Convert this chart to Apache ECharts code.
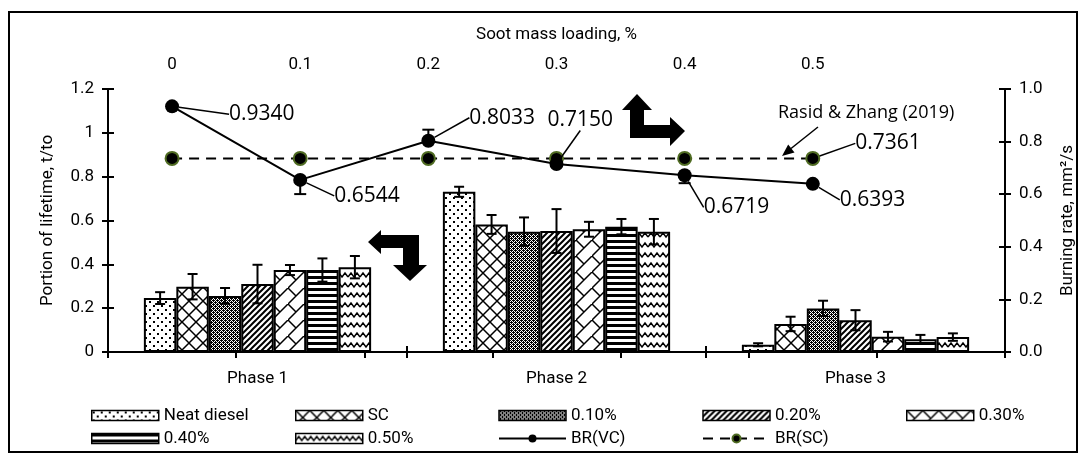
<!DOCTYPE html>
<html>
<head>
<meta charset="utf-8">
<script src="https://cdn.jsdelivr.net/npm/echarts@6/dist/echarts.min.js"></script>
<style>
  html, body { margin: 0; padding: 0; background: #fff; }
  #chart1 { width: 1086px; height: 459px; }
</style>
</head>
<body>
<div id="chart1"></div>
<script>
// categories
var phases = ['Phase 1', 'Phase 2', 'Phase 3'];
var barNames = ['Neat diesel', 'SC', '0.10%', '0.20%', '0.30%', '0.40%', '0.50%'];
var sootLoading = ['0', '0.1', '0.2', '0.3', '0.4', '0.5', ''];

// portion of lifetime (left axis), one array per phase, in barNames order
var phase1 = [0.246, 0.298, 0.256, 0.310, 0.374, 0.374, 0.387];
var phase2 = [0.731, 0.582, 0.549, 0.552, 0.560, 0.572, 0.549];
var phase3 = [0.033, 0.128, 0.199, 0.145, 0.070, 0.058, 0.068];
var phase1Err = [0.027, 0.058, 0.036, 0.088, 0.023, 0.053, 0.051];
var phase2Err = [0.023, 0.043, 0.065, 0.100, 0.034, 0.035, 0.058];
var phase3Err = [0.007, 0.033, 0.035, 0.046, 0.022, 0.020, 0.017];

// burning rate (right axis)
var brVC = [0.9340, 0.6544, 0.8033, 0.7150, 0.6719, 0.6393];
var brVCErrPlus = [0, 0, 0.042, 0, 0, 0];
var brVCErrMinus = [0, 0.054, 0, 0, 0.030, 0];
var brSC = [0.7361, 0.7361, 0.7361, 0.7361, 0.7361, 0.7361];

var NARROW = "Roboto, 'Liberation Sans', sans-serif";
var LABELFONT = "'Open Sans', 'Noto Sans', sans-serif";

// hatch patterns for the bars
function pattern(w, h, draw) {
    var c = document.createElement('canvas');
    c.width = w; c.height = h;
    var ctx = c.getContext('2d');
    ctx.fillStyle = '#fff';
    ctx.fillRect(0, 0, w, h);
    ctx.fillStyle = '#000';
    ctx.strokeStyle = '#000';
    draw(ctx, w, h);
    return { image: c, repeat: 'repeat' };
}
var fills = [
    // dots
    pattern(8, 8, function (ctx) {
        ctx.fillRect(1, 1, 2, 2);
        ctx.fillRect(5, 5, 2, 2);
    }),
    // big diamonds
    pattern(14, 14, function (ctx) {
        ctx.lineWidth = 1.5;
        ctx.beginPath();
        ctx.moveTo(0, 0); ctx.lineTo(14, 14);
        ctx.moveTo(14, 0); ctx.lineTo(0, 14);
        ctx.stroke();
    }),
    // fine checker
    pattern(4, 4, function (ctx) {
        ctx.fillRect(0, 0, 1, 1); ctx.fillRect(2, 0, 1, 1);
        ctx.fillRect(1, 1, 1, 1); ctx.fillRect(3, 1, 1, 1);
        ctx.fillRect(0, 2, 1, 1); ctx.fillRect(2, 2, 1, 1);
        ctx.fillRect(1, 3, 1, 1); ctx.fillRect(3, 3, 1, 1);
        ctx.fillRect(1, 0, 1, 1); ctx.fillRect(3, 2, 1, 1);
    }),
    // dense diagonal
    pattern(6, 6, function (ctx) {
        ctx.lineWidth = 2;
        ctx.beginPath();
        ctx.moveTo(-1, 7); ctx.lineTo(7, -1);
        ctx.moveTo(-1, 1); ctx.lineTo(1, -1);
        ctx.moveTo(5, 7); ctx.lineTo(7, 5);
        ctx.stroke();
    }),
    // diagonal brick
    pattern(16, 16, function (ctx) {
        ctx.lineWidth = 1.5;
        ctx.beginPath();
        ctx.moveTo(0, 16); ctx.lineTo(16, 0);
        ctx.moveTo(0, 0); ctx.lineTo(8, 8);
        ctx.stroke();
    }),
    // horizontal stripes
    pattern(4, 6, function (ctx) {
        ctx.fillRect(0, 0, 4, 3);
    }),
    // waves
    pattern(12, 10, function (ctx) {
        ctx.lineWidth = 1.4;
        ctx.beginPath();
        ctx.moveTo(0, 7);
        ctx.lineTo(3, 3); ctx.lineTo(6, 7); ctx.lineTo(9, 3); ctx.lineTo(12, 7);
        ctx.stroke();
    })
];

var phaseValues = [phase1, phase2, phase3];
var phaseErrors = [phase1Err, phase2Err, phase3Err];
var GAP = 0.24;

var series = [];
barNames.forEach(function (name, k) {
    series.push({
        name: name,
        type: 'bar',
        barGap: 0,
        barCategoryGap: (GAP * 100) + '%',
        data: phaseValues.map(function (p) { return p[k]; }),
        itemStyle: { color: fills[k], borderColor: '#000', borderWidth: 2 }
    });
});
barNames.forEach(function (name, k) {
    series.push({
        type: 'custom',
        z: 5,
        silent: true,
        data: phaseValues.map(function (p, i) { return [i, p[k], phaseErrors[i][k]]; }),
        encode: { x: 0, y: 1 },
        renderItem: function (params, api) {
            var c = api.coord([api.value(0), api.value(1)]);
            var band = api.size([1, 0])[0];
            var bw = band * (1 - GAP) / barNames.length;
            var x = c[0] + (k - (barNames.length - 1) / 2) * bw;
            var hi = api.coord([api.value(0), api.value(1) + api.value(2)])[1];
            var lo = api.coord([api.value(0), api.value(1) - api.value(2)])[1];
            var st = { stroke: '#000', lineWidth: 2 };
            return { type: 'group', children: [
                { type: 'line', shape: { x1: x, y1: hi, x2: x, y2: lo }, style: st },
                { type: 'line', shape: { x1: x - 5, y1: hi, x2: x + 5, y2: hi }, style: st },
                { type: 'line', shape: { x1: x - 5, y1: lo, x2: x + 5, y2: lo }, style: st }
            ] };
        }
    });
});

// label offsets for the burning-rate values
var vcShift = [[45, 8], [22, 16], [29, -23], [-21, -44], [7, 32], [15, 16]];
var scShift = [30, -15];

series.push({
    type: 'custom',
    xAxisIndex: 1,
    yAxisIndex: 1,
    z: 6,
    silent: true,
    data: brVC.map(function (v, i) { return [i, v, brVCErrPlus[i], brVCErrMinus[i]]; }),
    encode: { x: 0, y: 1 },
    renderItem: function (params, api) {
        var c = api.coord([api.value(0), api.value(1)]);
        var hi = api.coord([api.value(0), api.value(1) + api.value(2)])[1];
        var lo = api.coord([api.value(0), api.value(1) - api.value(3)])[1];
        var st = { stroke: '#000', lineWidth: 2 };
        var ch = [{ type: 'line', shape: { x1: c[0], y1: hi, x2: c[0], y2: lo }, style: st }];
        if (api.value(2) > 0) ch.push({ type: 'line', shape: { x1: c[0] - 6, y1: hi, x2: c[0] + 6, y2: hi }, style: st });
        if (api.value(3) > 0) ch.push({ type: 'line', shape: { x1: c[0] - 6, y1: lo, x2: c[0] + 6, y2: lo }, style: st });
        return { type: 'group', children: ch };
    }
});
series.push({
    name: 'BR(SC)',
    type: 'line',
    xAxisIndex: 1,
    yAxisIndex: 1,
    z: 7,
    symbol: 'circle',
    symbolSize: 13,
    lineStyle: { color: '#000', width: 2, type: [10, 7] },
    itemStyle: { color: '#000', borderColor: '#4f6b22', borderWidth: 2 },
    data: brSC.map(function (v, i) {
        return i === brSC.length - 1 ? { value: v, label: { show: true } } : v;
    }),
    label: {
        show: false, position: 'right', color: '#000', fontSize: 21, fontFamily: LABELFONT,
        formatter: function (p) { return p.value.toFixed(4); }
    },
    labelLine: { show: true, lineStyle: { color: '#000', width: 1.5 } },
    labelLayout: function () { return { dx: scShift[0], dy: scShift[1] }; }
});
series.push({
    name: 'BR(VC)',
    type: 'line',
    xAxisIndex: 1,
    yAxisIndex: 1,
    z: 8,
    symbol: 'circle',
    symbolSize: 14,
    lineStyle: { color: '#000', width: 2 },
    itemStyle: { color: '#000' },
    data: brVC,
    label: {
        show: true, position: 'right', color: '#000', fontSize: 21, fontFamily: LABELFONT,
        formatter: function (p) { return p.value.toFixed(4); }
    },
    labelLine: { show: true, lineStyle: { color: '#000', width: 1.5 } },
    labelLayout: function (p) { return { dx: vcShift[p.dataIndex][0], dy: vcShift[p.dataIndex][1] }; }
});

// legend in five columns
var legendCols = [
    ['Neat diesel', '0.40%'],
    ['SC', '0.50%'],
    ['0.10%', 'BR(VC)'],
    ['0.20%', 'BR(SC)'],
    ['0.30%']
];
var legendLeft = [86, 290, 493, 697, 901];
var legends = legendCols.map(function (col, j) {
    return {
        orient: 'vertical',
        left: legendLeft[j],
        top: 402,
        itemWidth: 67,
        itemHeight: 10,
        itemGap: 6,
        selectedMode: false,
        textStyle: { color: '#000', fontSize: 17, fontFamily: NARROW, lineHeight: 16, padding: [0, 0, 0, 0] },
        data: col.map(function (n) {
            return barNames.indexOf(n) >= 0
                ? { name: n, icon: 'rect', itemStyle: { borderColor: '#000', borderWidth: 1.5 } }
                : { name: n };
        })
    };
});

var axisText = { color: '#000', fontSize: 17, fontFamily: NARROW };
var axisLine = { show: true, lineStyle: { color: '#000', width: 2 } };
var tickOut = { show: true, length: 6, interval: 0, lineStyle: { color: '#000', width: 2 } };
var tickIn = { show: true, inside: true, length: 6, interval: 0, lineStyle: { color: '#000', width: 2 } };

var option = {
    animation: false,
    backgroundColor: '#fff',
    grid: { left: 108, right: 81, top: 89, bottom: 107 },
    legend: legends,
    xAxis: [{
        type: 'category',
        position: 'bottom',
        data: phases,
        axisLine: axisLine,
        axisTick: tickOut,
        axisLabel: Object.assign({ margin: 18 }, axisText)
    }, {
        type: 'category',
        position: 'top',
        data: sootLoading,
        name: 'Soot mass loading, %',
        nameLocation: 'middle',
        nameGap: 46,
        nameTextStyle: axisText,
        axisLine: axisLine,
        axisTick: tickOut,
        axisLabel: Object.assign({ margin: 16, interval: 0 }, axisText)
    }, {
        // inner half of the crossing ticks
        type: 'category', position: 'bottom', data: phases,
        axisLine: { show: false }, axisTick: tickIn, axisLabel: { show: false }
    }, {
        type: 'category', position: 'top', data: sootLoading,
        axisLine: { show: false }, axisTick: tickIn, axisLabel: { show: false }
    }],
    yAxis: [{
        type: 'value',
        position: 'left',
        min: 0, max: 1.2, interval: 0.2,
        name: 'Portion of lifetime, t/to',
        nameLocation: 'middle',
        nameGap: 52,
        nameTextStyle: axisText,
        axisLine: axisLine,
        axisTick: tickOut,
        splitLine: { show: false },
        axisLabel: Object.assign({ margin: 14 }, axisText)
    }, {
        type: 'value',
        position: 'right',
        min: 0, max: 1, interval: 0.2,
        name: 'Burning rate, mm²/s',
        nameLocation: 'middle',
        nameGap: 54,
        nameTextStyle: axisText,
        axisLine: axisLine,
        axisTick: tickOut,
        splitLine: { show: false },
        axisLabel: Object.assign({ margin: 14, formatter: function (v) { return v.toFixed(1); } }, axisText)
    }, {
        type: 'value', position: 'left', min: 0, max: 1.2, interval: 0.2,
        axisLine: { show: false }, axisTick: tickIn, splitLine: { show: false }, axisLabel: { show: false }
    }, {
        type: 'value', position: 'right', min: 0, max: 1, interval: 0.2,
        axisLine: { show: false }, axisTick: tickIn, splitLine: { show: false }, axisLabel: { show: false }
    }],
    graphic: [
        // outer frame
        { type: 'rect', shape: { x: 9, y: 12, width: 1068, height: 440 }, style: { fill: 'none', stroke: '#000', lineWidth: 2 }, z: -1 },
        // bent arrow pointing up / right (towards right axis)
        { type: 'polygon', shape: { points: [[637, 94], [652, 110], [644, 110], [644, 125], [670, 125], [670, 117], [685, 131], [670, 146], [670, 138], [630, 138], [630, 110], [622, 110]] }, style: { fill: '#000' } },
        // bent arrow pointing left / down (towards left axis)
        { type: 'polygon', shape: { points: [[368, 242], [381, 230], [381, 235], [419, 235], [419, 265], [427, 265], [410, 281], [393, 265], [403, 265], [403, 248], [381, 248], [381, 254]] }, style: { fill: '#000' } },
        // reference note
        { type: 'text', left: 778, top: 104, style: { text: 'Rasid & Zhang (2019)', fill: '#000', font: "18px 'Open Sans', 'Noto Sans', sans-serif" } },
        { type: 'line', shape: { x1: 818, y1: 127, x2: 791, y2: 148.5 }, style: { stroke: '#000', lineWidth: 1.5 } },
        { type: 'polygon', shape: { points: [[782, 156], [794.5, 152.4], [788.2, 144.6]] }, style: { fill: '#000' } }
    ],
    series: series
};

var myChart = echarts.init(document.getElementById('chart1'));
myChart.setOption(option);
</script>
</body>
</html>
